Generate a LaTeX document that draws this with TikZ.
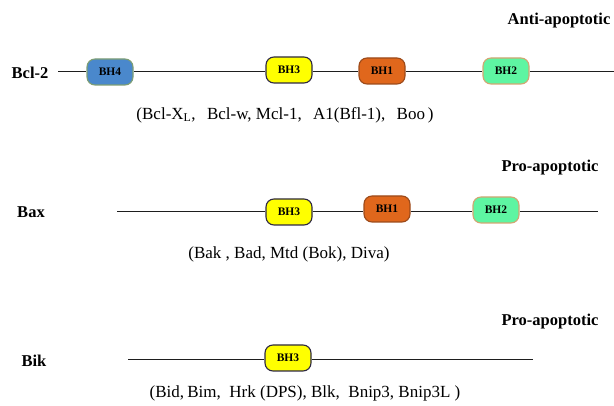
\documentclass[tikz,border=0pt]{standalone}
\usepackage{fontspec}
\setmainfont{Liberation Serif}
\definecolor{bhfour}{HTML}{4A88CC}
\definecolor{bhfourrim}{HTML}{7E9E74}
\definecolor{bhthree}{HTML}{FFFF00}
\definecolor{bhthreerim}{HTML}{2E2842}
\definecolor{bhone}{HTML}{E0671C}
\definecolor{bhonerim}{HTML}{9C4A1A}
\definecolor{bhtwo}{HTML}{5EF5A2}
\definecolor{bhtworim}{HTML}{D2A672}
\definecolor{chain}{HTML}{1E1E1E}
\begin{document}
\begin{tikzpicture}[x=1pt,y=-1pt,
  dom/.style={draw, line width=1.1pt, rounded corners=8pt,
    minimum width=46pt, minimum height=26pt, inner sep=0pt,
    font=\bfseries\fontsize{11.5}{13}\selectfont},
  bhfourbox/.style={dom, fill=bhfour, draw=bhfourrim},
  bhthreebox/.style={dom, fill=bhthree, draw=bhthreerim},
  bhonebox/.style={dom, fill=bhone, draw=bhonerim},
  bhtwobox/.style={dom, fill=bhtwo, draw=bhtworim},
  protein/.style={font=\bfseries\fontsize{16.5}{19}\selectfont},
  group/.style={font=\bfseries\fontsize{16.5}{19}\selectfont},
  members/.style={font=\fontsize{17}{20}\selectfont},
  backbone/.style={draw=chain, line width=1pt}]
\useasboundingbox (0,0) rectangle (614,406);

% ---- Bcl-2 : anti-apoptotic ----
\node[group] (anti) at (559,21) {Anti-apoptotic};
\node[protein] (bcl) at (30,73) {Bcl-2};
\coordinate (ra) at (58,72);
\coordinate (rb) at (614,72);
\node[bhfourbox]  (a4) at (110,72) {BH4};
\node[bhthreebox] (a3) at (289,70) {BH3};
\node[bhonebox]   (a1) at (382,71) {BH1};
\node[bhtwobox]   (a2) at (506,71) {BH2};
\draw[backbone] (ra) -- (ra -| a4.west)
  (ra -| a4.east) -- (ra -| a3.west)
  (ra -| a3.east) -- (ra -| a1.west)
  (ra -| a1.east) -- (ra -| a2.west)
  (ra -| a2.east) -- (rb);
\node[members] (alist) at (285,115) {(Bcl-X\textsubscript{L},\ \ \,Bcl-w, Mcl-1,\ \ \,A1(Bfl-1),\ \ \,Boo\,)};

% ---- Bax : pro-apoptotic ----
\node[group] (prob) at (550,168) {Pro-apoptotic};
\node[protein] (bax) at (31,212) {Bax};
\coordinate (sa) at (117,212);
\coordinate (sb) at (598,212);
\node[bhthreebox] (b3) at (289,212) {BH3};
\node[bhonebox]   (b1) at (387,209) {BH1};
\node[bhtwobox]   (b2) at (496,210) {BH2};
\draw[backbone] (sa) -- (sa -| b3.west)
  (sa -| b3.east) -- (sa -| b1.west)
  (sa -| b1.east) -- (sa -| b2.west)
  (sa -| b2.east) -- (sb);
\node[members] (blist) at (289,254) {(Bak , Bad, Mtd (Bok), Diva)};

% ---- Bik : BH3-only ----
\node[group] (proc) at (550,322) {Pro-apoptotic};
\node[protein] (bik) at (34,361) {Bik};
\coordinate (ta) at (128,360);
\coordinate (tb) at (533,360);
\node[bhthreebox] (c3) at (288,358) {BH3};
\draw[backbone] (ta) -- (ta -| c3.west)
  (ta -| c3.east) -- (tb);
\node[members] (clist) at (305,393) {(Bid,\kern-1pt\ Bim,\ \ Hrk (DPS), Blk,\ \ Bnip3, Bnip3L )};
\end{tikzpicture}
\end{document}
